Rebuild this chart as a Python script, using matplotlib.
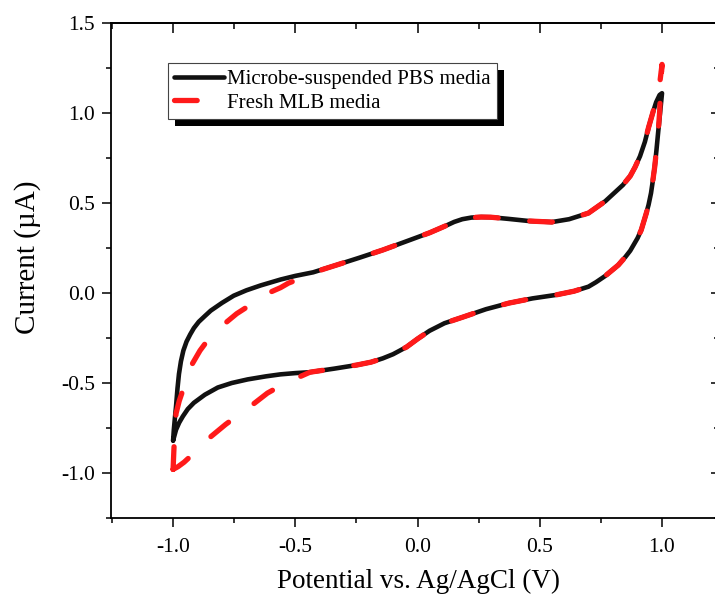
import matplotlib
matplotlib.use('Agg')
import matplotlib.pyplot as plt
from matplotlib.patches import Rectangle
from matplotlib.transforms import IdentityTransform
from matplotlib.ticker import MultipleLocator

# Microbe-suspended PBS media: forward scan then reverse scan
pbs_x = [-1.0, -0.997, -0.993, -0.988, -0.982, -0.976, -0.968, -0.958, -0.945, -0.93,
         -0.915, -0.895, -0.87, -0.846, -0.80, -0.752, -0.70, -0.642, -0.56, -0.50,
         -0.427, -0.33, -0.24, -0.142, -0.05, 0.05, 0.118, 0.15, 0.183, 0.22,
         0.26, 0.30, 0.37, 0.455, 0.549, 0.62, 0.699, 0.768, 0.80, 0.84,
         0.87, 0.89, 0.91, 0.93, 0.945, 0.962, 0.976, 0.99, 1.0,
         0.992, 0.984, 0.977, 0.97, 0.962, 0.955, 0.945, 0.935, 0.925, 0.915,
         0.90, 0.885, 0.87, 0.85, 0.821, 0.79, 0.768, 0.73, 0.699, 0.64,
         0.565, 0.47, 0.374, 0.28, 0.183, 0.11, 0.049, 0.0, -0.045, -0.10,
         -0.142, -0.19, -0.248, -0.34, -0.44, -0.50, -0.561, -0.62, -0.695, -0.76,
         -0.817, -0.87, -0.915, -0.94, -0.96, -0.975, -0.988, -1.0]
pbs_y = [-0.82, -0.76, -0.70, -0.63, -0.53, -0.45, -0.38, -0.32, -0.27, -0.23,
         -0.195, -0.16, -0.128, -0.098, -0.055, -0.015, 0.015, 0.042, 0.075, 0.095,
         0.115, 0.156, 0.195, 0.239, 0.285, 0.335, 0.375, 0.395, 0.41, 0.419,
         0.422, 0.421, 0.412, 0.40, 0.394, 0.41, 0.444, 0.51, 0.55, 0.60,
         0.65, 0.70, 0.76, 0.84, 0.92, 1.0, 1.06, 1.10, 1.11,
         1.0, 0.89, 0.79, 0.70, 0.62, 0.555, 0.49, 0.44, 0.395, 0.35,
         0.305, 0.27, 0.235, 0.20, 0.155, 0.12, 0.095, 0.06, 0.035, 0.01,
         -0.011, -0.03, -0.056, -0.09, -0.135, -0.168, -0.21, -0.255, -0.30, -0.34,
         -0.363, -0.384, -0.40, -0.42, -0.44, -0.445, -0.452, -0.463, -0.48, -0.50,
         -0.525, -0.565, -0.61, -0.645, -0.685, -0.72, -0.76, -0.82]

# Fresh MLB media
mlb_x = [-1.0, -0.997, -0.993, -0.988, -0.975, -0.96, -0.945, -0.92, -0.89, -0.86,
         -0.82, -0.78, -0.74, -0.70, -0.65, -0.61, -0.56, -0.528, -0.46, -0.39,
         -0.33, -0.24, -0.142, -0.05, 0.05, 0.118, 0.15, 0.183, 0.22, 0.26,
         0.30, 0.37, 0.455, 0.549, 0.62, 0.699, 0.768, 0.80, 0.84, 0.87,
         0.89, 0.91, 0.93, 0.945, 0.962, 0.976, 0.985, 0.992, 1.0,
         0.997, 0.993, 0.99, 0.984, 0.977, 0.97, 0.962, 0.955, 0.945, 0.935,
         0.925, 0.915, 0.90, 0.885, 0.87, 0.85, 0.821, 0.79, 0.768, 0.73,
         0.699, 0.64, 0.565, 0.47, 0.374, 0.28, 0.183, 0.11, 0.049, 0.0,
         -0.045, -0.10, -0.142, -0.19, -0.248, -0.34, -0.44, -0.54, -0.614, -0.703,
         -0.745, -0.785, -0.874, -0.915, -0.955, -0.98, -1.0]
mlb_y = [-0.98, -0.88, -0.76, -0.67, -0.60, -0.54, -0.47, -0.39, -0.32, -0.265,
         -0.21, -0.16, -0.115, -0.08, -0.035, 0.0, 0.03, 0.055, 0.09, 0.13,
         0.156, 0.195, 0.239, 0.285, 0.335, 0.375, 0.395, 0.41, 0.419, 0.422,
         0.421, 0.412, 0.40, 0.394, 0.41, 0.444, 0.51, 0.55, 0.60, 0.65,
         0.70, 0.76, 0.84, 0.92, 1.0, 1.07, 1.13, 1.18, 1.27,
         1.20, 1.10, 1.0, 0.89, 0.79, 0.70, 0.62, 0.555, 0.49, 0.44,
         0.395, 0.35, 0.305, 0.27, 0.235, 0.20, 0.155, 0.12, 0.095, 0.06,
         0.035, 0.01, -0.011, -0.03, -0.056, -0.09, -0.135, -0.168, -0.21, -0.255,
         -0.30, -0.34, -0.363, -0.384, -0.40, -0.42, -0.44, -0.50, -0.556, -0.65,
         -0.69, -0.73, -0.83, -0.89, -0.94, -0.965, -0.98]

labels = ['Microbe-suspended PBS media', 'Fresh MLB media']
xticks = [-1.0, -0.5, 0.0, 0.5, 1.0]
yticks = [-1.0, -0.5, 0.0, 0.5, 1.0, 1.5]

plt.rcParams['font.family'] = ['Liberation Serif', 'DejaVu Serif']
plt.rcParams['axes.linewidth'] = 1.3

fig = plt.figure(figsize=(7.15, 5.96), dpi=100)
ax = fig.add_axes([111 / 715, 78 / 596, 607 / 715, 495 / 596])

ax.plot(pbs_x, pbs_y, color='#111111', lw=3.3, solid_capstyle='round',
        solid_joinstyle='round', label=labels[0], zorder=2)
ax.plot(mlb_x, mlb_y, color='#ff1a1a', lw=3.8, dashes=(4.3, 6.0),
        dash_capstyle='round', dash_joinstyle='round', label=labels[1], zorder=3)

ax.set_xlim(-1.254, 1.229)
ax.set_ylim(-1.25, 1.5)
ax.set_xticks(xticks)
ax.set_yticks(yticks)
ax.set_xticklabels([f'{v:.1f}' for v in xticks])
ax.set_yticklabels([f'{v:.1f}' for v in yticks])
ax.xaxis.set_minor_locator(MultipleLocator(0.25))
ax.yaxis.set_minor_locator(MultipleLocator(0.25))
ax.tick_params(which='major', direction='out', length=6.5, width=1.1,
               labelsize=15.5, top=False, right=False)
ax.tick_params(axis='x', which='major', pad=8)
ax.tick_params(axis='y', which='major', pad=5)
ax.tick_params(which='minor', direction='out', length=3.5, width=1.1,
               top=False, right=False)

# inward ticks on the top and right frame
top = ax.secondary_xaxis('top')
top.set_xticks(xticks)
top.xaxis.set_minor_locator(MultipleLocator(0.25))
top.tick_params(which='major', direction='in', length=7, width=1.1, labeltop=False)
top.tick_params(which='minor', direction='in', length=4, width=1.1)
right = ax.secondary_yaxis('right')
right.set_yticks(yticks)
right.yaxis.set_minor_locator(MultipleLocator(0.25))
right.tick_params(which='major', direction='in', length=5, width=1.1, labelright=False)
right.tick_params(which='minor', direction='in', length=3, width=1.1)

ax.set_xlabel('Potential vs. Ag/AgCl (V)', fontsize=19.5)
ax.xaxis.set_label_coords(0.507, -0.141)
ax.xaxis.label.set_va('baseline')
ax.set_ylabel('Current (\u00b5A)', fontsize=21)
ax.yaxis.set_label_coords(-0.138, 0.526)
ax.yaxis.label.set_va('center')

leg = ax.legend(loc='upper left', bbox_to_anchor=((168 - 111) / 607, (518 - 63) / 495),
                borderaxespad=0, fontsize=15, frameon=True, fancybox=False,
                borderpad=0.3, handlelength=2.4, handletextpad=0.15,
                labelspacing=0.2)
leg.get_frame().set_edgecolor('#444444')
leg.get_frame().set_linewidth(0.8)
leg.get_frame().set_alpha(1)

fig.canvas.draw()
bb = leg.get_frame().get_window_extent()
ax.add_artist(Rectangle((bb.x0 + 7, bb.y0 - 7), bb.width, bb.height,
                        transform=IdentityTransform(), facecolor='black',
                        edgecolor='none', zorder=4.9, clip_on=False))

fig.savefig('out.png', dpi=100)
